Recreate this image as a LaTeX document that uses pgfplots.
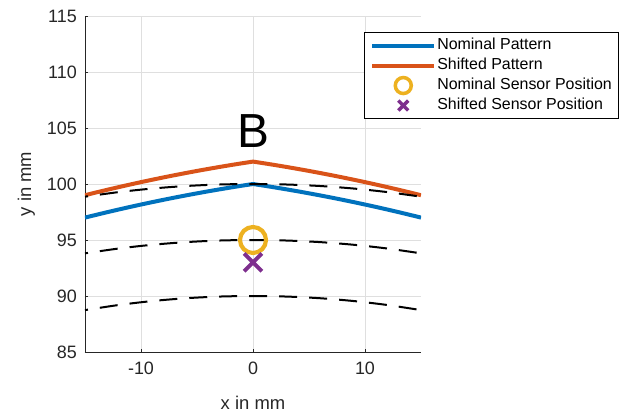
\documentclass[border=0pt]{standalone}
\usepackage{fontspec}
\setmainfont{Liberation Sans}
\usepackage{pgfplots}
\pgfplotsset{compat=1.18}

\definecolor{mlBlue}{HTML}{0072BD}
\definecolor{mlOrange}{HTML}{D95319}
\definecolor{mlYellow}{HTML}{EDB120}
\definecolor{mlPurple}{HTML}{7E2F8E}
\definecolor{mlAxis}{HTML}{262626}
\definecolor{mlGrid}{HTML}{DFDFDF}

\begin{document}
\begin{tikzpicture}
\begin{axis}[
	scale only axis,
	width=336bp, height=336bp,
	xmin=-15, xmax=15, ymin=85, ymax=115,
	xtick={-10,0,10},
	ytick={85,90,...,115},
	axis x line*=bottom, axis y line*=left,
	axis line style={-,draw=mlAxis,line width=0.8bp},
	tick align=inside, major tick length=3.5bp,
	tick style={draw=mlAxis,line width=0.6bp},
	grid=major,
	major grid style={draw=mlGrid,line width=0.8bp},
	/pgf/number format/assume math mode=true,
	tick label style={font=\fontsize{18}{20}\selectfont,text=mlAxis},
	xticklabel style={anchor=north,inner sep=0pt,yshift=-10bp},
	yticklabel style={anchor=east,inner sep=0pt,xshift=-8bp},
	label style={font=\fontsize{18.5}{20}\selectfont,text=mlAxis},
	xlabel={x in mm},
	ylabel={y in mm},
	xlabel style={at={(axis description cs:0.5,-0.1726)},anchor=base},
	ylabel style={at={(axis description cs:-0.1607,0.5)},anchor=base},
	clip=true,
	legend image code/.code={\draw[mark repeat=2,mark phase=2,#1]
		plot coordinates {(0bp,0bp) (31bp,0bp) (62bp,0bp)};},
	legend style={
		at={(rel axis cs:0.830,0.952)}, anchor=north west,
		draw=black, line width=0.8bp, fill=white,
		inner xsep=6bp, inner ysep=5bp, row sep=4bp,
		font=\fontsize{16}{18}\selectfont,
		nodes={inner sep=1bp,text height=11bp,text depth=3bp},
		cells={anchor=west},
	},
]

\addplot[color=mlBlue,line width=4bp,line join=round] coordinates {
	(-15,97.000) (-14,97.247) (-13,97.487) (-12,97.720) (-11,97.947)
	(-10,98.167) (-9,98.380) (-8,98.587) (-7,98.787) (-6,98.980)
	(-5,99.167) (-4,99.347) (-3,99.520) (-2,99.687) (-1,99.847) (0,100.000)
	(1,99.847) (2,99.687) (3,99.520) (4,99.347) (5,99.167)
	(6,98.980) (7,98.787) (8,98.587) (9,98.380) (10,98.167)
	(11,97.947) (12,97.720) (13,97.487) (14,97.247) (15,97.000)};
\addlegendentry{Nominal Pattern}

\addplot[color=mlOrange,line width=4bp,line join=round] coordinates {
	(-15,99.000) (-14,99.247) (-13,99.487) (-12,99.720) (-11,99.947)
	(-10,100.167) (-9,100.380) (-8,100.587) (-7,100.787) (-6,100.980)
	(-5,101.167) (-4,101.347) (-3,101.520) (-2,101.687) (-1,101.847) (0,102.000)
	(1,101.847) (2,101.687) (3,101.520) (4,101.347) (5,101.167)
	(6,100.980) (7,100.787) (8,100.587) (9,100.380) (10,100.167)
	(11,99.947) (12,99.720) (13,99.487) (14,99.247) (15,99.000)};
\addlegendentry{Shifted Pattern}

\addplot[only marks,color=mlYellow,mark=o,mark size=13bp,
	mark options={line width=4.2bp,fill=none},
	legend image post style={mark size=8bp,mark options={line width=3.5bp,fill=none}}] coordinates {(0,95)};
\addlegendentry{Nominal Sensor Position}

\addplot[only marks,color=mlPurple,mark=x,mark size=12.5bp,
	mark options={line width=4bp},
	legend image post style={mark size=7bp,mark options={line width=3.5bp}}] coordinates {(0,93)};
\addlegendentry{Shifted Sensor Position}

% reference arcs, radii 100, 95 and 90 mm
\pgfplotsset{arcstyle/.style={forget plot,black,line width=2bp,
	dash pattern=on 18bp off 12bp,dash phase=15bp,smooth}}
\addplot[arcstyle] coordinates {
	(-15,98.869) (-12,99.277) (-9,99.594) (-6,99.820) (-3,99.955) (0,100.000)
	(3,99.955) (6,99.820) (9,99.594) (12,99.277) (15,98.869)};
\addplot[arcstyle] coordinates {
	(-15,93.808) (-12,94.239) (-9,94.573) (-6,94.810) (-3,94.953) (0,95.000)
	(3,94.953) (6,94.810) (9,94.573) (12,94.239) (15,93.808)};
\addplot[arcstyle] coordinates {
	(-15,88.741) (-12,89.196) (-9,89.549) (-6,89.800) (-3,89.950) (0,90.000)
	(3,89.950) (6,89.800) (9,89.549) (12,89.196) (15,88.741)};

\node[anchor=base,font=\fontsize{48}{48}\selectfont] at (axis cs:0,103.3) {B};

\end{axis}
\pgfresetboundingbox
\path[use as bounding box] (current axis.south west) ++(-85bp,-61bp) rectangle ++(624bp,413bp);
\end{tikzpicture}
\end{document}
